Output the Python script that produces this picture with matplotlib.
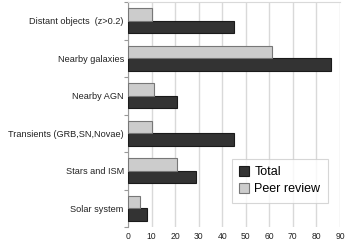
import numpy as np
import matplotlib.pyplot as plt

plt.rcParams['font.family'] = ['Liberation Sans', 'DejaVu Sans']

categories = ['Distant objects  (z>0.2)', 'Nearby galaxies', 'Nearby AGN',
              'Transients (GRB,SN,Novae)', 'Stars and ISM', 'Solar system']
total = [45, 86, 21, 45, 29, 8]
peer_review = [10, 61, 11, 10, 21, 5]

fig = plt.figure(figsize=(3.45, 2.45), dpi=100)
ax = fig.add_axes([0.371, 0.0735, 0.6145, 0.918])

y = np.arange(len(categories))
h = 0.333
ax.barh(y + h / 2, total, height=h, color='#333333', edgecolor='#1a1a1a',
        linewidth=0.8, label='Total', zorder=3)
ax.barh(y - h / 2, peer_review, height=h, color='#cccccc', edgecolor='#777777',
        linewidth=0.8, label='Peer review', zorder=3)

ax.set_xlim(0, 90)
ax.set_ylim(len(categories) - 0.5, -0.5)
ax.set_xticks(range(0, 91, 10))
ax.set_yticks(y)
ax.set_yticklabels(categories, color='#222222')
ax.set_yticks(np.arange(-0.5, len(categories), 1), minor=True)
ax.tick_params(axis='y', which='major', length=0, labelsize=6.6, pad=3)
ax.tick_params(axis='y', which='minor', length=3, color='#999999', width=0.8)
ax.tick_params(axis='x', length=0, labelsize=6.2, pad=3.5, labelcolor='#222222')

ax.grid(axis='x', color='#d9d9d9', linewidth=1, zorder=0)
for s in ['bottom', 'right']:
    ax.spines[s].set_visible(False)
ax.spines['top'].set_color('#d9d9d9')
ax.spines['left'].set_color('#999999')
ax.spines['left'].set_linewidth(0.8)

leg = ax.legend(loc='lower right', bbox_to_anchor=(0.943, 0.107), fontsize=9,
                frameon=True, fancybox=False, edgecolor='#cccccc',
                handlelength=0.8, handleheight=0.8, handletextpad=0.4,
                borderpad=0.6, labelspacing=0.4, borderaxespad=0)
leg.get_frame().set_linewidth(0.8)

fig.savefig('out.png', dpi=100)
